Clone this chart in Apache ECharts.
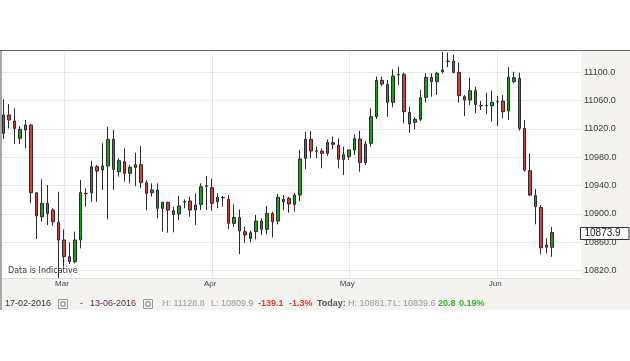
<!DOCTYPE html>
<html><head><meta charset="utf-8">
<script src="https://cdn.jsdelivr.net/npm/echarts@6/dist/echarts.min.js"></script>
<style>html,body{margin:0;padding:0;background:#fff}#c{width:630px;height:361px}</style>
</head><body><div id="c"></div>
<script>
// Trading sessions (Sun–Fri), 17 Feb 2016 – 13 Jun 2016
const dates = [
 '2016-02-17','2016-02-18','2016-02-19','2016-02-21','2016-02-22','2016-02-23','2016-02-24','2016-02-25','2016-02-26','2016-02-28','2016-02-29',
 '2016-03-01','2016-03-02','2016-03-03','2016-03-04','2016-03-06','2016-03-07','2016-03-08','2016-03-09','2016-03-10','2016-03-11','2016-03-13','2016-03-14','2016-03-15','2016-03-16','2016-03-17','2016-03-18','2016-03-20','2016-03-21','2016-03-22','2016-03-23','2016-03-24','2016-03-25','2016-03-27','2016-03-28','2016-03-29','2016-03-30','2016-03-31',
 '2016-04-01','2016-04-03','2016-04-04','2016-04-05','2016-04-06','2016-04-07','2016-04-08','2016-04-10','2016-04-11','2016-04-12','2016-04-13','2016-04-14','2016-04-15','2016-04-17','2016-04-18','2016-04-19','2016-04-20','2016-04-21','2016-04-22','2016-04-24','2016-04-25','2016-04-26','2016-04-27','2016-04-28','2016-04-29',
 '2016-05-01','2016-05-02','2016-05-03','2016-05-04','2016-05-05','2016-05-06','2016-05-08','2016-05-09','2016-05-10','2016-05-11','2016-05-12','2016-05-13','2016-05-15','2016-05-16','2016-05-17','2016-05-18','2016-05-19','2016-05-20','2016-05-22','2016-05-23','2016-05-24','2016-05-25','2016-05-26','2016-05-27','2016-05-29','2016-05-30','2016-05-31',
 '2016-06-01','2016-06-02','2016-06-03','2016-06-05','2016-06-06','2016-06-07','2016-06-08','2016-06-09','2016-06-10','2016-06-12','2016-06-13'
];
const monthNames = ['Jan','Feb','Mar','Apr','May','Jun','Jul','Aug','Sep','Oct','Nov','Dec'];

const open = [
 11013.9,11039.8,11031.3,11006.8,11018.6,11025.6,10930.1,10896.2,10915.1,10905.6,
 10888.2,10863.3,10839.8,10832.7,10863.3,10928.7,10930.1,10966.8,10962.1,10967.8,
 11005.4,10959.8,10973.9,10957.4,10965.9,10969.6,10944.2,10930.1,10933.9,10908.0,
 10916.5,10904.7,10900.0,10917.0,10918.4,10905.6,10913.6,10939.2,10937.2,10917.4,
 10923.3,10920.7,10886.8,10895.3,10875.1,10865.6,10875.1,10890.1,10878.4,10900.9,
 10890.1,10917.4,10922.1,10913.6,10926.8,10978.6,11005.4,10989.2,10988.9,10985.6,
 11000.7,10997.4,10977.2,10980.9,10990.4,11005.9,10972.5,10999.8,11037.4,11088.7,
 11083.1,11057.6,11096.5,11097.2,11043.5,11029.4,11033.6,11064.7,11092.9,11086.8,
 11100.9,11115.3,11116.0,11100.0,11065.6,11060.9,11074.1,11053.1,11052.7,11052.9,
 11058.4,11059.5,11045.4,11086.8,11091.5,11020.9,10961.2,10925.9,10909.4,10856.2,
 10853.1
];
const close = [
 11039.8,11032.7,11020.9,11019.5,11025.6,10930.1,10897.2,10915.1,10900.9,10889.2,
 10863.3,10839.8,10832.7,10863.3,10930.1,10929.2,10966.8,10960.7,10967.8,11005.4,
 10963.1,10975.3,10957.4,10965.9,10969.6,10944.2,10929.2,10933.9,10908.0,10916.5,
 10905.6,10899.5,10911.3,10917.6,10905.6,10912.7,10938.6,10939.8,10915.1,10923.5,
 10922.9,10886.8,10895.3,10876.0,10870.4,10873.6,10890.1,10878.4,10900.9,10889.2,
 10923.5,10920.7,10914.1,10926.8,10977.6,11005.4,10988.9,10988.7,10985.6,11001.2,
 10998.4,10977.2,10983.8,10990.4,11006.4,10972.5,10998.8,11037.4,11088.7,11083.5,
 11057.6,11094.8,11097.0,11044.5,11027.1,11033.6,11064.2,11092.9,11086.8,11098.6,
 11103.3,11115.7,11100.0,11067.1,11060.9,11074.1,11054.8,11052.7,11053.1,11057.6,
 11058.8,11044.5,11092.9,11092.5,11020.9,10962.1,10926.8,10910.4,10852.5,10853.1,
 10873.9
];
const low = [
 11005.9,11020.9,10998.8,10998.8,10992.7,10915.1,10864.7,10889.2,10884.5,10883.5,
 10809.9,10825.6,10829.4,10830.4,10851.5,10910.4,10917.4,10917.4,10933.9,10892.5,
 10933.9,10952.7,10945.6,10943.3,10939.5,10936.2,10905.6,10924.5,10893.9,10875.1,
 10873.6,10874.1,10891.5,10908.0,10896.2,10884.5,10905.6,10905.6,10904.7,10908.0,
 10910.4,10878.4,10882.1,10843.5,10859.5,10860.0,10864.2,10870.4,10871.3,10867.1,
 10885.4,10905.6,10901.9,10903.3,10918.4,10963.1,10978.6,10978.6,10964.5,10981.9,
 10991.3,10964.5,10955.1,10976.2,10983.3,10959.8,10969.2,10995.1,11034.1,11080.7,
 11037.4,11050.6,11082.1,11028.0,11014.8,11019.5,11031.3,11057.6,11065.6,11068.0,
 11098.6,11107.1,11098.6,11057.2,11038.4,11053.9,11042.1,11046.8,11041.2,11030.4,
 11024.2,11035.1,11032.7,11084.5,11017.6,10959.8,10925.4,10885.4,10843.1,10844.5,
 10839.6
];
const high = [
 11061.9,11055.3,11049.2,11024.2,11032.7,11026.6,10930.1,10948.9,10940.9,10908.0,
 10931.5,10878.4,10860.0,10875.1,10948.0,10936.2,10975.3,10969.2,10999.8,11023.3,
 11018.6,10978.6,10992.7,10969.2,10986.6,10996.0,10948.0,10943.3,10943.3,10917.4,
 10917.4,10910.4,10925.4,10920.7,10924.5,10929.2,10943.3,10953.6,10950.0,10929.2,
 10925.4,10926.8,10913.6,10906.6,10882.1,10876.5,10898.6,10893.9,10911.3,10903.3,
 10928.2,10926.8,10924.5,10930.1,10990.4,11016.2,11017.2,10995.1,10992.7,11005.4,
 11009.2,11006.8,10995.1,10991.0,11012.5,11017.6,11003.1,11049.2,11093.9,11093.9,
 11089.2,11104.2,11108.0,11099.5,11051.5,11036.5,11075.1,11098.6,11098.6,11100.9,
 11128.8,11127.8,11124.5,11113.6,11068.0,11092.5,11079.8,11059.5,11071.3,11074.1,
 11066.6,11068.0,11107.1,11100.9,11099.5,11032.7,10985.6,10935.3,10912.7,10865.6,
 10881.7
];

// Summary bar texts
const rangeStart = '17-02-2016', rangeEnd = '13-06-2016';
const periodHigh = '11128.8', periodLow = '10809.9', periodChange = '-139.1', periodPct = '-1.3%';
const todayHigh = '10881.7', todayLow = '10839.6', todayChange = '20.8', todayPct = '0.19%';
const noteText = 'Data is Indicative';

const ohlc = open.map((o, i) => [o, close[i], low[i], high[i]]);
const isMonthStart = (i, v) => v.slice(8) === '01';

const chart = echarts.init(document.getElementById('c'), null, {renderer: 'canvas'});
const FF = '"Liberation Sans", Arial, sans-serif';

chart.setOption({
  animation: false,
  textStyle: {fontFamily: FF},
  grid: [
    {left: 3.67, top: 50, width: 548.5, height: 228, show: false},
    {left: 2, top: 43.96, width: 579, height: 255.08, show: false}
  ],
  xAxis: [
    {type: 'category', gridIndex: 0, data: dates, boundaryGap: false,
     axisLine: {show: false}, axisTick: {show: false},
     axisLabel: {interval: isMonthStart, formatter: v => monthNames[+v.slice(5, 7) - 1],
                 fontSize: 8, color: '#444', margin: 2, padding: [0, 4, 0, 0], fontFamily: FF},
     splitLine: {show: true, interval: isMonthStart, lineStyle: {color: '#e8e8e8', width: 1}}},
    {type: 'value', gridIndex: 1, show: false, min: 0, max: 1}
  ],
  yAxis: [
    {type: 'value', gridIndex: 0, min: 10809.7, max: 11131.5, show: false},
    {type: 'value', gridIndex: 1, position: 'right', min: 10780, max: 11140, interval: 40,
     axisLine: {show: false}, axisTick: {show: false},
     axisLabel: {showMinLabel: false, showMaxLabel: false, formatter: v => v.toFixed(1),
                 fontSize: 9, color: '#3a3a3a', margin: 3, fontFamily: FF},
     splitLine: {show: true, showMinLine: false, showMaxLine: false, lineStyle: {color: '#e8e8e8', width: 1}}}
  ],
  series: [{
    type: 'candlestick', xAxisIndex: 0, yAxisIndex: 0, data: ohlc,
    barWidth: 3, clip: false,
    itemStyle: {color: '#17a317', color0: '#e23b36', borderColor: '#2b2b2b', borderColor0: '#2b2b2b', borderWidth: 1}
  }]
});

const lastClose = close[close.length - 1];
const py = chart.convertToPixel({yAxisIndex: 0}, lastClose);
const txt = (text, x, opts = {}) => ({
  type: 'text', z: 100,
  style: Object.assign({text, x, y: 304, fill: '#999', font: '9px ' + FF, verticalAlign: 'middle', textVerticalAlign: 'middle'}, opts)
});
const icon = (x) => ({
  type: 'group', z: 100, children: [
    {type: 'rect', z: 100, shape: {x: x, y: 299.5, width: 9, height: 9}, style: {fill: '#f0f0f0', stroke: '#9a9a9a', lineWidth: 1}},
    {type: 'rect', z: 101, shape: {x: x + 2.5, y: 302, width: 4, height: 4}, style: {fill: '#fff', stroke: '#7a7a7a', lineWidth: 1}}
  ]
});

chart.setOption({
  graphic: [
    {type: 'rect', z: -10, shape: {x: 0, y: 50, width: 630, height: 260}, style: {fill: '#f4f3ef'}},
    {type: 'rect', z: -9, shape: {x: 2, y: 50, width: 579, height: 228}, style: {fill: '#ffffff'}},
    {type: 'line', z: -8, shape: {x1: 2, y1: 278.5, x2: 581, y2: 278.5}, style: {stroke: '#dedede', lineWidth: 1}},
    {type: 'line', z: 100, shape: {x1: 0, y1: 50.5, x2: 630, y2: 50.5}, style: {stroke: '#666', lineWidth: 1}},
    {type: 'rect', z: 100, shape: {x: 0, y: 51, width: 2, height: 259}, style: {fill: '#a8a8a8'}},
    {type: 'rect', z: 1, shape: {x: 3, y: 266, width: 77, height: 10}, style: {fill: '#fff'}},
    {type: 'text', z: 1, style: {text: noteText, x: 8, y: 271, fill: '#333', font: '8px "DejaVu Sans", sans-serif', verticalAlign: 'middle', textVerticalAlign: 'middle'}},
    {type: 'rect', z: 100, shape: {x: 580.5, y: Math.round(py) - 5.5, width: 48.5, height: 12}, style: {fill: '#fff', stroke: '#333', lineWidth: 1}},
    {type: 'text', z: 101, style: {text: lastClose.toFixed(1), x: 584.5, y: Math.round(py) + 0.5, fill: '#222', font: '10px ' + FF, verticalAlign: 'middle', textVerticalAlign: 'middle'}},
    txt(rangeStart, 5, {fill: '#333'}),
    icon(58.5),
    txt('-', 80, {fill: '#333'}),
    txt(rangeEnd, 90, {fill: '#5a2d4f'}),
    icon(143.5),
    txt('H: ' + periodHigh, 162),
    txt('L: ' + periodLow, 211),
    txt(periodChange, 258, {fill: '#e53935', font: 'bold 9px ' + FF}),
    txt(periodPct, 289, {fill: '#e53935', font: 'bold 9px ' + FF}),
    txt('Today:', 317, {fill: '#555', font: 'bold 9px ' + FF}),
    txt('H: ' + todayHigh, 348),
    txt('L: ' + todayLow, 393),
    txt(todayChange, 438, {fill: '#2db52d', font: 'bold 9px ' + FF}),
    txt(todayPct, 459, {fill: '#2db52d', font: 'bold 9px ' + FF})
  ]
});
</script></body></html>
